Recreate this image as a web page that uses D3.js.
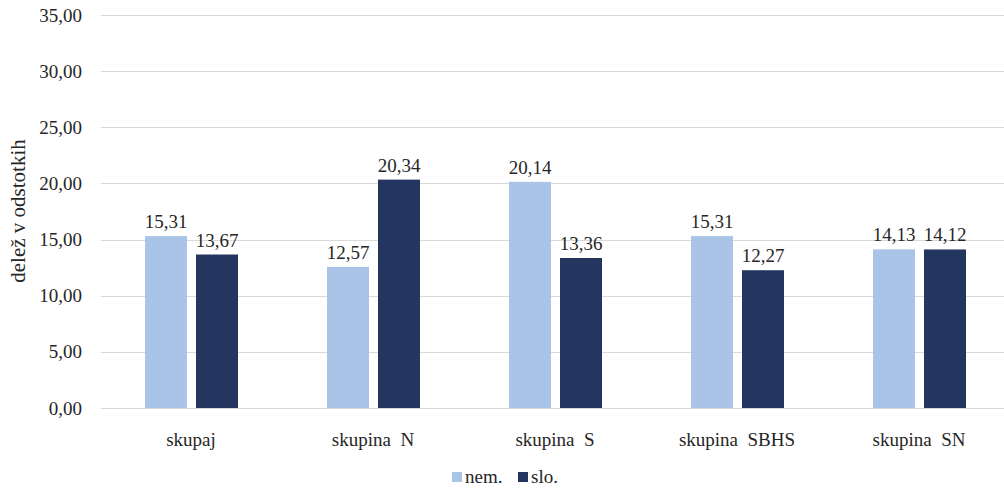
<!DOCTYPE html>
<html>
<head>
<meta charset="utf-8">
<script src="https://cdn.jsdelivr.net/npm/d3@7"></script>
</head>
<body style="margin:0;padding:0;background:#fff;">
<svg id="chart" width="1004" height="488" style="display:block;"></svg>
<script>
// Categories and series
const categories = ["skupaj", "skupina  N", "skupina  S", "skupina  SBHS", "skupina  SN"];
const seriesNames = ["nem.", "slo."];
const nemValues = [15.31, 12.57, 20.14, 15.31, 14.13];
const sloValues = [13.67, 20.34, 13.36, 12.27, 14.12];
const yTicks = [0, 5, 10, 15, 20, 25, 30, 35];
const colors = ["#a9c4e6", "#243660"];

const TEXT_COLOR = "#262626";
const textStyle = size => `font-family: 'Liberation Serif', 'Times New Roman', serif !important; font-size: ${size}px; white-space: pre;`;

const svg = d3.select("#chart");
const fmt = v => d3.format(".2f")(v).replace(".", ",");

const x = d3.scaleBand().domain(categories).range([100, 1010]).paddingInner(0).paddingOuter(0);
// two bars per group, 42px wide with a 9px gap, placed inside each band
const xSub = d3.scaleBand().domain(seriesNames).range([45, 138]).paddingInner(9 / 51).paddingOuter(0);
const y = d3.scaleLinear().domain([0, 35]).range([408, 15]);

// Horizontal gridlines
svg.append("g")
  .selectAll("line")
  .data(yTicks)
  .join("line")
  .attr("x1", 101).attr("x2", 1004)
  .attr("y1", d => Math.round(y(d)) + 0.5).attr("y2", d => Math.round(y(d)) + 0.5)
  .attr("stroke", "#d9d9d9").attr("stroke-width", 1);

// Y axis tick labels
const yAxis = d3.axisLeft(y).tickValues(yTicks).tickFormat(fmt).tickSize(0).tickPadding(0);
const gy = svg.append("g").attr("transform", "translate(82,0)").call(yAxis);
gy.attr("font-family", null).attr("font-size", null);
gy.select(".domain").remove();
gy.selectAll("text").attr("fill", TEXT_COLOR).attr("style", textStyle(19));

// Y axis title
svg.append("text")
  .attr("transform", "translate(25,211) rotate(-90)")
  .attr("text-anchor", "middle")
  .attr("fill", TEXT_COLOR)
  .attr("style", textStyle(21))
  .text("delež v odstotkih");

// Bars
const rows = categories.map((c, i) => ({ cat: c, vals: [nemValues[i], sloValues[i]] }));
const groups = svg.append("g").selectAll("g")
  .data(rows)
  .join("g")
  .attr("transform", d => `translate(${x(d.cat)},0)`);

groups.selectAll("rect")
  .data(d => d.vals.map((v, j) => ({ s: seriesNames[j], v, j })))
  .join("rect")
  .attr("x", d => xSub(d.s))
  .attr("width", xSub.bandwidth())
  .attr("y", d => y(d.v))
  .attr("height", d => y(0) - y(d.v))
  .attr("fill", d => colors[d.j]);

// Value labels
groups.selectAll("text.val")
  .data(d => d.vals.map((v, j) => ({ s: seriesNames[j], v, j })))
  .join("text")
  .attr("class", "val")
  .attr("x", d => xSub(d.s) + xSub.bandwidth() / 2)
  .attr("y", d => y(d.v) - 8)
  .attr("text-anchor", "middle")
  .attr("fill", TEXT_COLOR)
  .attr("style", textStyle(19))
  .text(d => fmt(d.v));

// Category labels
svg.append("g").selectAll("text")
  .data(categories)
  .join("text")
  .attr("x", d => x(d) + x.bandwidth() / 2)
  .attr("y", 446)
  .attr("text-anchor", "middle")
  .attr("fill", TEXT_COLOR)
  .attr("style", textStyle(19))
  .text(d => d);

// Legend
const legendItems = [
  { name: seriesNames[0], color: colors[0], x: 452 },
  { name: seriesNames[1], color: colors[1], x: 518 }
];
const li = svg.append("g").selectAll("g").data(legendItems).join("g")
  .attr("transform", d => `translate(${d.x},0)`);
li.append("rect").attr("x", 0).attr("y", 472).attr("width", 10).attr("height", 10).attr("fill", d => d.color);
li.append("text").attr("x", 13).attr("y", 483)
  .attr("fill", TEXT_COLOR)
  .attr("style", textStyle(19))
  .text(d => d.name);
</script>
</body>
</html>
